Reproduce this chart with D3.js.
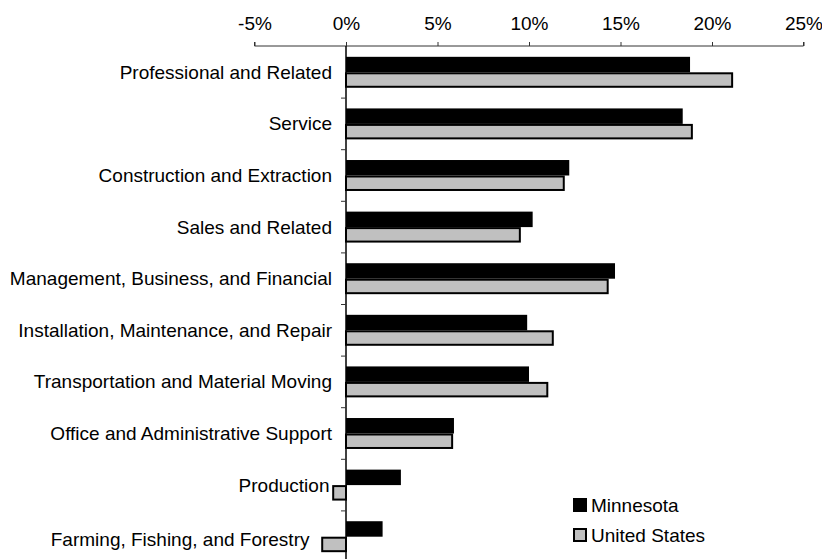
<!DOCTYPE html>
<html>
<head>
<meta charset="utf-8">
<script src="https://cdn.jsdelivr.net/npm/d3@7"></script>
<style>
  body { margin: 0; background: #fff; }
  svg text { font-family: "Liberation Sans", Arial, sans-serif; fill: #000; }
</style>
</head>
<body>
<div id="chart"></div>
<script>
// 데이터
const categories = [
  "Professional and Related",
  "Service",
  "Construction and Extraction",
  "Sales and Related",
  "Management, Business, and Financial",
  "Installation, Maintenance, and Repair",
  "Transportation and Material Moving",
  "Office and Administrative Support",
  "Production",
  "Farming, Fishing, and Forestry"
];
const seriesNames = ["Minnesota", "United States"];
const minnesota = [18.8, 18.4, 12.2, 10.2, 14.7, 9.9, 10.0, 5.9, 3.0, 2.0];
const unitedStates = [21.1, 18.9, 11.9, 9.5, 14.3, 11.3, 11.0, 5.8, -0.7, -1.3];
const xTicks = [-5, 0, 5, 10, 15, 20, 25];

const width = 822, height = 559;
const svg = d3.select("#chart").append("svg")
  .attr("width", width)
  .attr("height", height);

const x = d3.scaleLinear().domain([-5, 25]).range([254.5, 803.5]);
const y = d3.scaleBand().domain(categories).range([46.5, 562.5]);
const y1 = d3.scaleBand().domain(seriesNames)
  .range([y.bandwidth() * 0.2, y.bandwidth() * 0.8]);

const fills = { "Minnesota": "#000", "United States": "#c0c0c0" };

// 상단 축
const xAxis = d3.axisTop(x).tickValues(xTicks).tickSize(4)
  .tickFormat(d => d + "%");
const gx = svg.append("g").attr("transform", "translate(0,46)").call(xAxis);
gx.select(".domain").attr("stroke", "#333").attr("d", `M${x(-5)},-4V0H${x(25)}V-4`);
gx.selectAll(".tick line").attr("stroke", "#333");
gx.selectAll(".tick text")
  .attr("font-size", "19px")
  .attr("y", -16.5)
  .attr("dy", 0)
  .style("font-family", '"Liberation Sans", Arial, sans-serif');

// 막대
const rows = categories.map((c, i) => ({
  cat: c,
  vals: [
    { s: "Minnesota", v: minnesota[i] },
    { s: "United States", v: unitedStates[i] }
  ]
}));

const group = svg.selectAll("g.cat")
  .data(rows)
  .enter()
  .append("g")
  .attr("class", "cat")
  .attr("transform", d => `translate(0,${y(d.cat)})`);

group.selectAll("rect")
  .data(d => d.vals)
  .enter()
  .append("rect")
  .attr("x", d => x(Math.min(0, d.v)))
  .attr("y", d => y1(d.s) + (d.s === "United States" ? 1 : 0))
  .attr("width", d => Math.abs(x(d.v) - x(0)))
  .attr("height", d => y1.bandwidth() - (d.s === "United States" ? 2 : 0))
  .attr("fill", d => fills[d.s])
  .attr("stroke", d => d.s === "United States" ? "#000" : "none")
  .attr("stroke-width", 2);

// 세로 축 (0%)
svg.append("line")
  .attr("x1", x(0)).attr("x2", x(0))
  .attr("y1", 46).attr("y2", 562)
  .attr("stroke", "#000").attr("stroke-width", 1.5);

svg.selectAll("line.ytick")
  .data(categories.slice(1))
  .enter()
  .append("line")
  .attr("class", "ytick")
  .attr("x1", x(0) - 5).attr("x2", x(0))
  .attr("y1", d => y(d)).attr("y2", d => y(d))
  .attr("stroke", "#333");

// 범주 라벨 (음수 막대가 있으면 왼쪽으로 밀기)
function labelEnd(d, i) {
  const low = Math.min(0, minnesota[i], unitedStates[i]);
  if (low >= 0) return 332;
  const edge = x(low) - 1;
  const len = x(0) - edge;
  return edge - Math.max(2.5, len * 0.82 - 8.6);
}
svg.selectAll("text.cat")
  .data(categories)
  .enter()
  .append("text")
  .attr("class", "cat")
  .attr("x", (d, i) => labelEnd(d, i))
  .attr("y", (d, i) => y(d) + y.bandwidth() / 2 + 6.5 + (i === categories.length - 1 ? 2.5 : 0))
  .attr("text-anchor", "end")
  .attr("font-size", "19px")
  .text(d => d);

// 범례
const legend = svg.append("g").attr("transform", "translate(573,498)");
seriesNames.forEach((s, i) => {
  const g = legend.append("g").attr("transform", `translate(0,${i * 30})`);
  g.append("rect")
    .attr("x", s === "United States" ? 1 : 0)
    .attr("y", s === "United States" ? 1 : 0)
    .attr("width", s === "United States" ? 12 : 14)
    .attr("height", s === "United States" ? 12 : 14)
    .attr("fill", fills[s])
    .attr("stroke", s === "United States" ? "#000" : "none")
    .attr("stroke-width", 2);
  g.append("text")
    .attr("x", 18)
    .attr("y", 14)
    .attr("font-size", "19px")
    .text(s);
});
</script>
</body>
</html>
